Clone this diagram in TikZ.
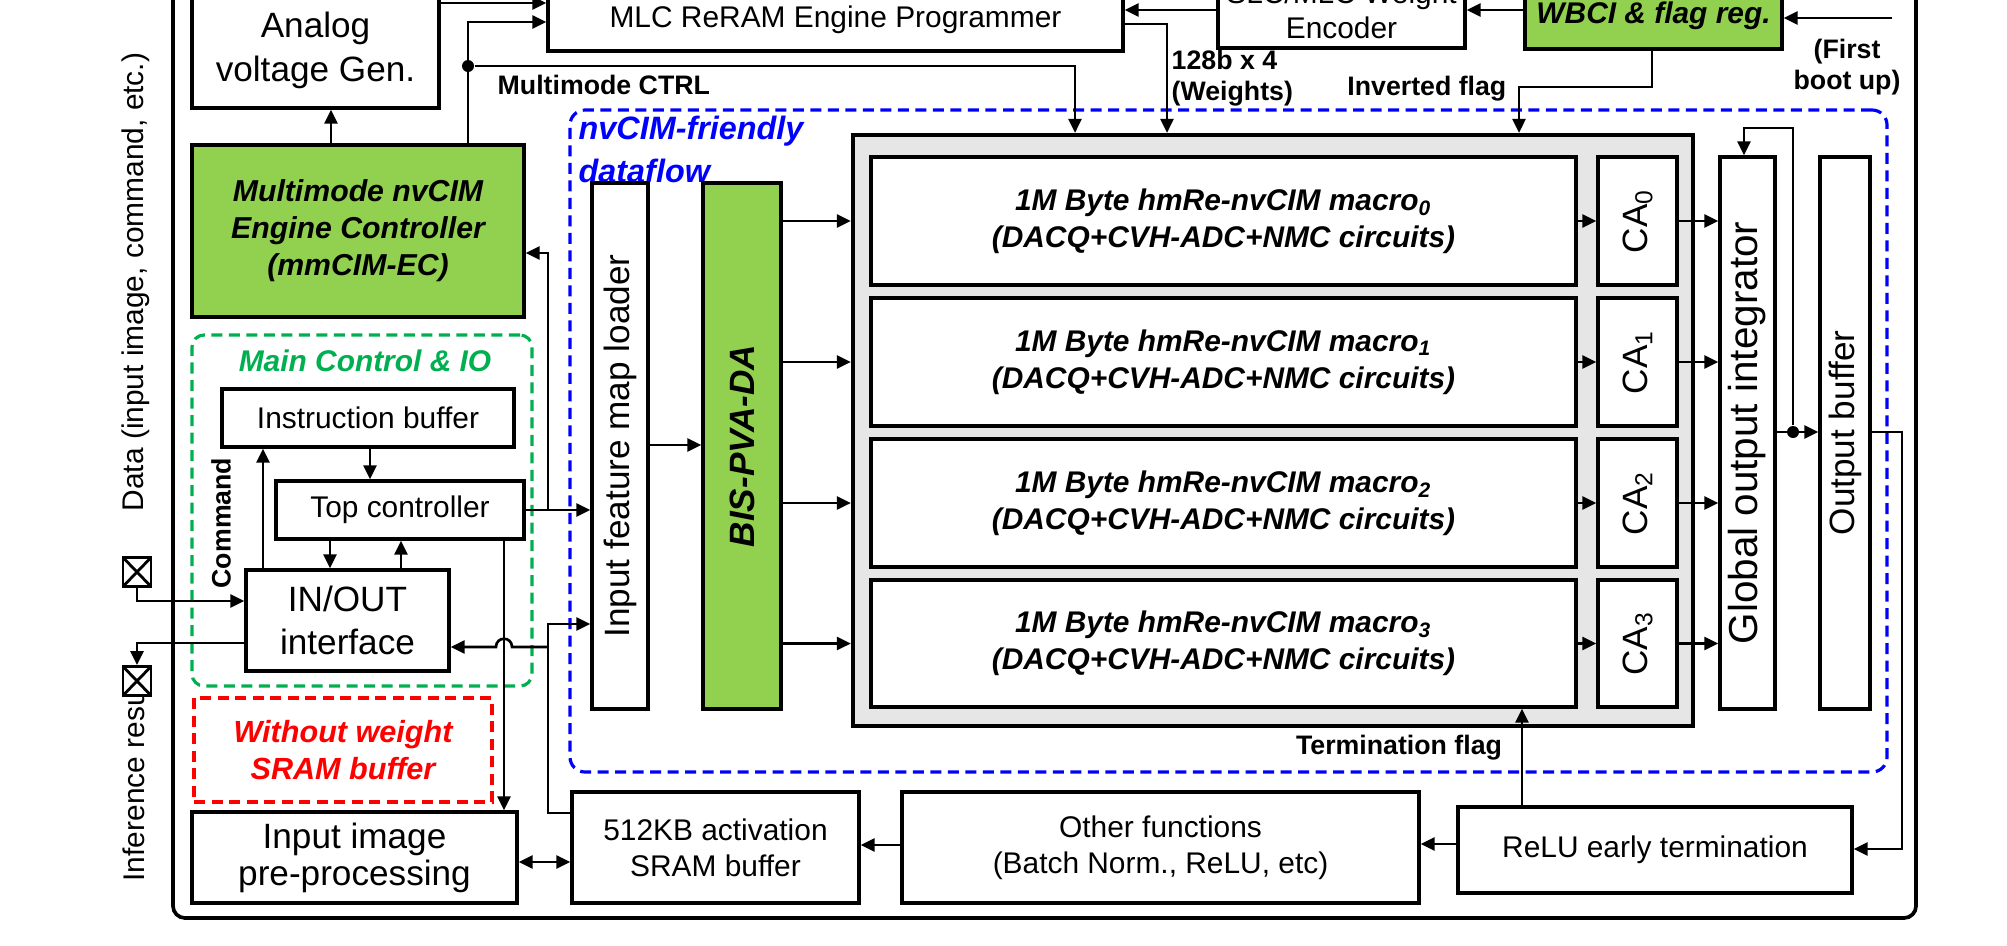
\documentclass[tikz,border=0pt]{standalone}
\usepackage{fontspec}
\setmainfont{Liberation Sans}
\usetikzlibrary{arrows.meta}
\definecolor{lgreen}{RGB}{146,208,80}
\definecolor{dgreen}{RGB}{0,176,80}
\definecolor{lgray}{RGB}{230,230,230}
\newcommand{\fA}{\fontsize{8.5}{10.3}\selectfont}
\newcommand{\fB}{\fontsize{10}{12.2}\selectfont}
\newcommand{\fL}{\fontsize{7.6}{8.9}\selectfont\bfseries}
\newcommand{\fM}{\fontsize{8.5}{10.5}\selectfont\bfseries\itshape}
\newcommand{\bx}[7]{\node[#6, minimum width={(#4-#2)*0.01cm}, minimum height={(#5-#3)*0.01cm}] (#1) at ({(#2+#4)/2},{(#3+#5)/2}) {#7};}
\begin{document}
\begin{tikzpicture}[x=0.01cm,y=-0.01cm,
  box/.style={draw,line width=0.95pt,fill=white,inner sep=0pt,align=center,font=\fA},
  gbox/.style={box,fill=lgreen},
  conn/.style={line width=0.75pt},
  arr/.style={conn,-{Triangle[length=0.14cm,width=0.13cm]}},
  darr/.style={conn,{Triangle[length=0.14cm,width=0.13cm]}-{Triangle[length=0.14cm,width=0.13cm]}},
  lbl/.style={inner sep=0pt,font=\fL,align=center},
  dot/.style={circle,fill,inner sep=0pt,minimum size=0.12cm},
  pad/.style={draw,line width=0.8pt,fill=white,minimum width=0.28cm,minimum height=0.29cm,inner sep=0pt,
    path picture={\draw[line width=0.8pt] (path picture bounding box.north west)--(path picture bounding box.south east)
      (path picture bounding box.south west)--(path picture bounding box.north east);}},
  region/.style={inner sep=0pt,line width=0.9pt,dash pattern=on 0.11cm off 0.065cm},
]
\useasboundingbox (0,0) rectangle (2007,945);
\clip (0,0) rectangle (2007,945);

% outer frame
\draw[line width=1.05pt,rounded corners=0.12cm] (173,-40) rectangle (1916,918);

% regions
\bx{dfbox}{570}{110}{1887}{772}{region,draw=blue,rounded corners=0.15cm}{}
\bx{mcio}{192}{335}{532}{686}{region,draw=dgreen,rounded corners=0.12cm}{}
\bx{nosram}{194}{698}{492}{802}{region,draw=red,align=center,font=\fontsize{8.7}{10.5}\selectfont\bfseries\itshape,text=red}{Without weight\\SRAM buffer}
\node[inner sep=0pt,font=\fontsize{8.5}{10}\selectfont\bfseries\itshape,text=dgreen] (mcioT) at (365,361) {Main Control \& IO};
\node[inner sep=0pt,anchor=west,align=left,font=\fontsize{9.2}{12.2}\selectfont\bfseries\itshape,text=blue] (dfT) at (578,149) {nvCIM-friendly\\dataflow};

% top row
\bx{avg}{192}{-8}{439}{108}{box,font=\fontsize{10}{12.5}\selectfont}{Analog\\voltage Gen.}
\bx{mlc}{548}{-11}{1123}{51}{box}{MLC ReRAM Engine Programmer}
\bx{enc}{1218}{-27}{1465}{48}{box,font=\fontsize{8.5}{9.8}\selectfont}{SLC/MLC Weight\\Encoder}
\bx{wbci}{1525}{-17}{1782}{49}{gbox,font=\fM}{WBCI \& flag reg.}
\coordinate (ext) at (1892,18);
\node[lbl] (fb) at (1847,67) {(First\\boot up)};

% controller
\bx{ec}{192}{145}{524}{317}{gbox,font=\fontsize{8.6}{10.5}\selectfont\bfseries\itshape}{Multimode nvCIM\\Engine Controller\\(mmCIM-EC)}
\node[dot] (d1) at (468,66) {};
\node[lbl,anchor=west] (mmctrl) at (497,85) {Multimode CTRL};
\node[lbl,anchor=west,align=left] (wts) at (1171,78) {128b x 4\\(Weights)};
\node[lbl,anchor=east] (invf) at (1507,89) {Inverted flag};

% main control & IO
\bx{ib}{222}{389}{514}{447}{box}{Instruction buffer}
\bx{tc}{276}{481}{524}{539}{box}{Top controller}
\bx{io}{246}{570}{449}{671}{box,font=\fontsize{10}{12.2}\selectfont}{IN/OUT\\interface}
\node[lbl,rotate=90] (cmd) at (221,523) {Command};
\node[inner sep=0pt,rotate=90,font=\fA] (dataT) at (136,282) {Data (input image, command, etc.)};
\node[inner sep=0pt,rotate=90,anchor=west,font=\fA] (infT) at (134,882) {Inference resu};
\node[pad] (pad1) at (137,572) {};
\node[pad] (pad2) at (137,681) {};

% bottom row
\bx{iip}{192}{812}{517}{903}{box,font=\fontsize{10}{10.5}\selectfont}{Input image\\pre-processing}
\bx{sram}{572}{792}{859}{903}{box,font=\fontsize{8.5}{10.2}\selectfont}{512KB activation\\SRAM buffer}
\bx{oth}{902}{792}{1419}{903}{box,font=\fontsize{8.5}{10.2}\selectfont}{Other functions\\(Batch Norm., ReLU, etc)}
\bx{relu}{1458}{807}{1852}{893}{box}{ReLU early termination}
\node[lbl] (termT) at (1399,748) {Termination flag};

% dataflow
\bx{ifml}{592}{183}{648}{709}{box}{}
\node[inner sep=0pt,rotate=90,font=\fB] (ifmlT) at (ifml) {Input feature map loader};
\bx{bis}{703}{183}{781}{709}{gbox}{}
\node[inner sep=0pt,rotate=90,font=\fontsize{10}{12}\selectfont\bfseries\itshape] (bisT) at (bis) {BIS-PVA-DA};
\bx{gray}{853}{135}{1693}{726}{draw,fill=lgray,line width=1.2pt,inner sep=0pt}{}
\bx{m0}{871}{157}{1576}{285}{box,font=\fM}{1M Byte hmRe-nvCIM macro\textsubscript{0}\\(DACQ+CVH-ADC+NMC circuits)}
\bx{m1}{871}{298}{1576}{426}{box,font=\fM}{1M Byte hmRe-nvCIM macro\textsubscript{1}\\(DACQ+CVH-ADC+NMC circuits)}
\bx{m2}{871}{439}{1576}{567}{box,font=\fM}{1M Byte hmRe-nvCIM macro\textsubscript{2}\\(DACQ+CVH-ADC+NMC circuits)}
\bx{m3}{871}{580}{1576}{707}{box,font=\fM}{1M Byte hmRe-nvCIM macro\textsubscript{3}\\(DACQ+CVH-ADC+NMC circuits)}
\bx{ca0}{1598}{157}{1677}{285}{box}{}
\bx{ca1}{1598}{298}{1677}{426}{box}{}
\bx{ca2}{1598}{439}{1677}{567}{box}{}
\bx{ca3}{1598}{580}{1677}{707}{box}{}
\node[inner sep=0pt,rotate=90,font=\fB] (ca0T) at (ca0) {CA\textsubscript{0}};
\node[inner sep=0pt,rotate=90,font=\fB] (ca1T) at (ca1) {CA\textsubscript{1}};
\node[inner sep=0pt,rotate=90,font=\fB] (ca2T) at (ca2) {CA\textsubscript{2}};
\node[inner sep=0pt,rotate=90,font=\fB] (ca3T) at (ca3) {CA\textsubscript{3}};
\bx{goi}{1720}{157}{1775}{709}{box}{}
\node[inner sep=0pt,rotate=90,font=\fontsize{11.5}{13}\selectfont] (goiT) at (goi) {Global output integrator};
\bx{ob}{1820}{157}{1870}{709}{box}{}
\node[inner sep=0pt,rotate=90,font=\fB] (obT) at (ob) {Output buffer};
\node[dot] (d2) at (1793,432) {};

% ---- connectors: top
\draw[arr] (avg.east |- 0,3) -- (mlc.west |- 0,3);
\draw[arr] (ec.north -| 331,0) -- (avg.south -| 331,0);
\draw[arr] (ec.north -| d1) -- (468,22) -- (mlc.west |- 0,22);
\draw[arr] (d1) -- (1075,66) -- (gray.north -| 1075,0);
\draw[arr] (enc.west |- 0,10) -- (mlc.east |- 0,10);
\draw[arr] (wbci.west |- 0,10) -- (enc.east |- 0,10);
\draw[arr] (ext) -- (wbci.east |- ext);
\draw[arr] (mlc.east |- 0,24) -- (1167,24) -- (gray.north -| 1167,0);
\draw[arr] (wbci.south -| 1652,0) -- (1652,87) -- (1519,87) -- (gray.north -| 1519,0);

% ---- connectors: control
\draw[arr] (tc.east) -- (ifml.west |- tc.east);
\draw[arr] (548,510) -- (548,253) -- (ec.east |- 0,253);
\draw[arr] (ib.south -| 370,0) -- (tc.north -| 370,0);
\draw[arr] (io.north -| 263,0) -- (ib.south -| 263,0);
\draw[arr] (tc.south -| 330,0) -- (io.north -| 330,0);
\draw[arr] (io.north -| 401,0) -- (tc.south -| 401,0);
\draw[arr] (tc.south -| 504,0) -- (iip.north -| 504,0);
\draw[arr] (sram.west |- 0,813) -- (548,813) -- (548,624) -- (ifml.west |- 0,624);
\draw[arr] (548,647) -- (512,647) .. controls (512,636) and (496,636) .. (496,647) -- (io.east |- 0,647);
\draw[arr] (pad1.south) -- (137,601) -- (io.west |- 0,601);
\draw[arr] (io.west |- 0,643) -- (137,643) -- (pad2.north);
\draw[darr] (iip.east |- 0,862) -- (sram.west |- 0,862);
\draw[arr] (oth.west |- 0,845) -- (sram.east |- 0,845);
\draw[arr] (relu.west |- 0,844) -- (oth.east |- 0,844);
\draw[arr] (relu.north -| 1522,0) -- (m3.south -| 1522,0);

% ---- connectors: dataflow
\draw[arr] (ifml.east |- 0,445) -- (bis.west |- 0,445);
\foreach \i in {0,1,2,3}{
  \draw[arr] (bis.east |- m\i.west) -- (gray.west |- m\i.west);
  \draw[arr] (m\i.east) -- (ca\i.west);
  \draw[arr] (ca\i.east) -- (goi.west |- ca\i.east);
}
\draw[arr] (goi.east |- d2) -- (ob.west |- d2);
\draw[arr] (d2) -- (1793,128) -- (1744,128) -- (goi.north -| 1744,0);
\draw[arr] (ob.east |- d2) -- (1902,432) -- (1902,849) -- (relu.east |- 0,849);
\end{tikzpicture}
\end{document}
